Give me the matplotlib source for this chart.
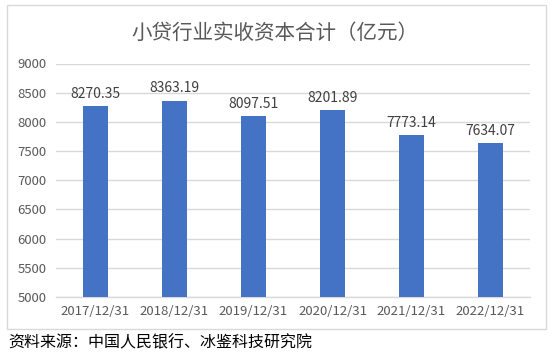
import matplotlib
matplotlib.use("Agg")
import matplotlib.pyplot as plt
from matplotlib.patches import Rectangle

plt.rcParams['font.family'] = ['Noto Sans CJK SC', 'DejaVu Sans']

categories = ["2017/12/31", "2018/12/31", "2019/12/31", "2020/12/31", "2021/12/31", "2022/12/31"]
values = [8270.35, 8363.19, 8097.51, 8201.89, 7773.14, 7634.07]
labels = ["8270.35", "8363.19", "8097.51", "8201.89", "7773.14", "7634.07"]
yticks = [5000, 5500, 6000, 6500, 7000, 7500, 8000, 8500, 9000]
title = "小贷行业实收资本合计（亿元）"
source = "资料来源：中国人民银行、冰鉴科技研究院"

W, H = 557, 354
fig = plt.figure(figsize=(W / 100, H / 100), dpi=100)

# chart frame
fig.patches.append(Rectangle((7 / W, 1 - 329 / H), (546 - 7) / W, (329 - 5) / H,
                             transform=fig.transFigure, fill=False,
                             edgecolor='#d9d9d9', linewidth=1))

ax = fig.add_axes([56 / W, 1 - 297 / H, (530 - 56) / W, (297 - 63.5) / H])
x = list(range(len(categories)))
bars = ax.bar(x, values, width=0.32, color='#4472C4', zorder=3, bottom=0)
ax.set_ylim(5000, 9000)
ax.set_xlim(-0.5, len(categories) - 0.5)
ax.set_yticks(yticks)
ax.set_yticklabels([str(v) for v in yticks])
ax.set_xticks(x)
ax.set_xticklabels(categories)
ax.tick_params(axis='both', length=0, labelsize=9.5, labelcolor='#595959')
ax.tick_params(axis='y', pad=7)
ax.tick_params(axis='x', pad=6)
ax.grid(axis='y', color='#d9d9d9', linewidth=1, zorder=0)
for s in ['top', 'right', 'left']:
    ax.spines[s].set_visible(False)
ax.spines['bottom'].set_color('#d9d9d9')
ax.spines['bottom'].set_linewidth(1)

for xi, v, lab in zip(x, values, labels):
    ax.annotate(lab, (xi, v), xytext=(0, 4), textcoords='offset points',
                ha='center', va='bottom', fontsize=10, color='#404040')

fig.text(275 / W, 1 - 33 / H, title, ha='center', va='center', fontsize=14.8, color='#595959')
fig.text(8 / W, 1 - 343 / H, source, ha='left', va='center', fontsize=11.5, color='#000000')

fig.savefig('out.png', dpi=100)
